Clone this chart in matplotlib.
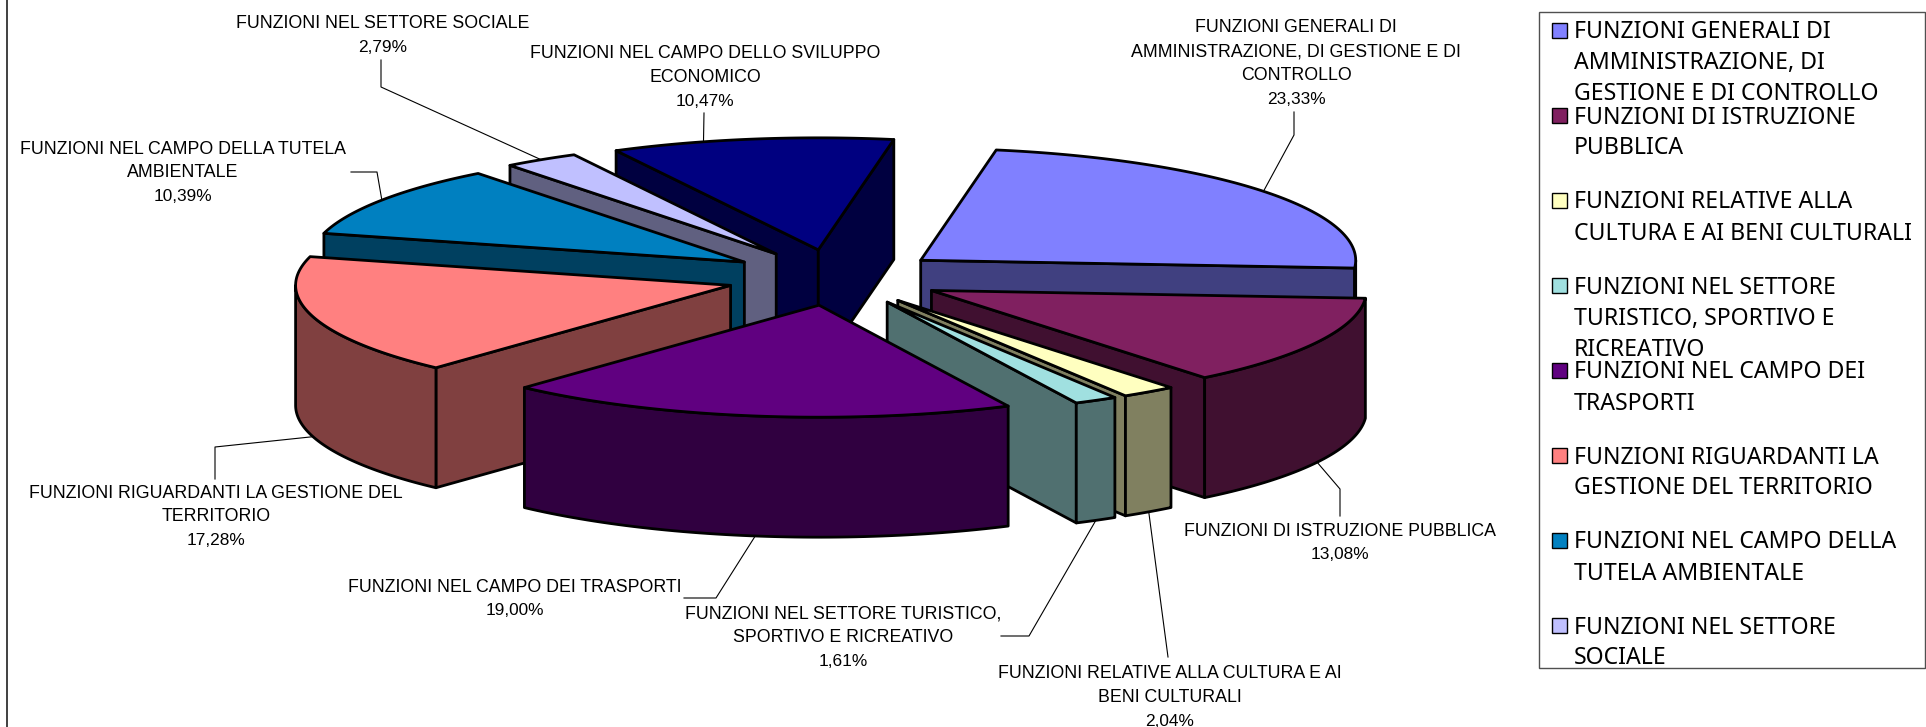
import numpy as np
import matplotlib
matplotlib.use('Agg')
import matplotlib.pyplot as plt
from matplotlib.patches import Polygon, Rectangle

# share of each function, clockwise from the start angle
values = [23.33, 13.08, 2.04, 1.61, 19.00, 17.28, 10.39, 2.79, 10.47]
value_labels = ['23,33%', '13,08%', '2,04%', '1,61%', '19,00%', '17,28%', '10,39%', '2,79%', '10,47%']
colors = ['#8080FF', '#802060', '#FFFFC0', '#A0E0E0', '#600080', '#FF8080', '#0080C0', '#C0C0FF', '#000080']

slice_labels = [
    ['FUNZIONI GENERALI DI', 'AMMINISTRAZIONE, DI GESTIONE E DI', 'CONTROLLO'],
    ['FUNZIONI DI ISTRUZIONE PUBBLICA'],
    ['FUNZIONI RELATIVE ALLA CULTURA E AI', 'BENI CULTURALI'],
    ['FUNZIONI NEL SETTORE TURISTICO,', 'SPORTIVO E RICREATIVO'],
    ['FUNZIONI NEL CAMPO DEI TRASPORTI'],
    ['FUNZIONI RIGUARDANTI LA GESTIONE DEL', 'TERRITORIO'],
    ['FUNZIONI NEL CAMPO DELLA TUTELA', 'AMBIENTALE'],
    ['FUNZIONI NEL SETTORE SOCIALE'],
    ['FUNZIONI NEL CAMPO DELLO SVILUPPO', 'ECONOMICO'],
]
# the last slice has no legend entry in the picture
legend_labels = [
    ['FUNZIONI GENERALI DI', 'AMMINISTRAZIONE, DI', 'GESTIONE E DI CONTROLLO'],
    ['FUNZIONI DI ISTRUZIONE', 'PUBBLICA'],
    ['FUNZIONI RELATIVE ALLA', 'CULTURA E AI BENI CULTURALI'],
    ['FUNZIONI NEL SETTORE', 'TURISTICO, SPORTIVO E', 'RICREATIVO'],
    ['FUNZIONI NEL CAMPO DEI', 'TRASPORTI'],
    ['FUNZIONI RIGUARDANTI LA', 'GESTIONE DEL TERRITORIO'],
    ['FUNZIONI NEL CAMPO DELLA', 'TUTELA AMBIENTALE'],
    ['FUNZIONI NEL SETTORE', 'SOCIALE'],
]

# layout, in pixels of the figure
CX, CY = 835, 277.5
RX, RY = 435, 112
HEIGHT = 120
EXPLODE = 0.25
START = 10
draw_order = [8, 7, 6, 5, 0, 1, 2, 3, 4]
label_xy = [(1296, 28), (1340, 531), (1170, 674), (843, 614), (515, 587),
            (216, 493), (183, 149), (383, 24), (705, 54)]
elbows = [[(1294, 135), (1294, 112)], [(1340, 489), (1340, 516)], [(1168, 657)],
          [(1029, 636), (1001, 636)], [(716, 598), (684, 598)], [(215, 447), (215, 479)],
          [(377, 172), (351, 172)], [(381, 87), (381, 60)], [(704, 113)]]
anchor_angle = {8: -15.3}


def point(x0, y0, t):
    t = np.radians(t)
    return x0 + RX * np.sin(t), y0 - RY * np.cos(t)


def draw_wall(ax, xs, ys, color):
    xs = np.asarray(xs)
    ys = np.asarray(ys)
    px = np.r_[xs, xs[::-1]]
    py = np.r_[ys, ys[::-1] + HEIGHT]
    ax.add_patch(Polygon(np.c_[px, py], closed=True, fc=color, ec='black', lw=2.0, joinstyle='round'))


fig = plt.figure(figsize=(19.26, 7.27), dpi=100)
ax = fig.add_axes([0, 0, 1, 1])
ax.set_xlim(0, 1926)
ax.set_ylim(727, 0)
ax.axis('off')

ax.plot([6.5, 6.5], [0, 727], color='#404040', lw=1.4)

shares = np.array(values) / np.sum(values) * 360
ends = START + np.cumsum(shares)
starts = ends - shares
mids = (starts + ends) / 2
apex_x = CX + EXPLODE * RX * np.sin(np.radians(mids))
apex_y = CY - EXPLODE * RY * np.cos(np.radians(mids))

for i in draw_order:
    t0, t1 = starts[i], ends[i]
    x0, y0 = apex_x[i], apex_y[i]
    side = tuple(0.5 * c for c in matplotlib.colors.to_rgb(colors[i]))
    if np.sin(np.radians(t0)) < 0:
        ex, ey = point(x0, y0, t0)
        draw_wall(ax, [x0, ex], [y0, ey], side)
    if np.sin(np.radians(t1)) > 0:
        ex, ey = point(x0, y0, t1)
        draw_wall(ax, [x0, ex], [y0, ey], side)
    f0, f1 = max(t0, 90), min(t1, 270)
    if f1 > f0:
        fx, fy = point(x0, y0, np.linspace(f0, f1, 60))
        draw_wall(ax, fx, fy, side)
    tx, ty = point(x0, y0, np.linspace(t0, t1, 80))
    ax.add_patch(Polygon(np.c_[np.r_[x0, tx], np.r_[y0, ty]], closed=True, fc=colors[i],
                         ec='black', lw=2.0, joinstyle='round'))

LABEL_FONT = 'Liberation Sans'
for i, lines in enumerate(slice_labels):
    t = anchor_angle.get(i, mids[i])
    ax_, ay_ = point(apex_x[i], apex_y[i], t)
    if np.cos(np.radians(t)) < 0:
        ay_ += HEIGHT
    pts = [(ax_, ay_)] + elbows[i]
    ax.plot([p[0] for p in pts], [p[1] for p in pts], color='black', lw=0.8, zorder=1)
    lx, ly = label_xy[i]
    for j, line in enumerate(lines):
        ax.text(lx, ly + j * 23.8, line, ha='center', va='center', fontsize=12.8,
                family=LABEL_FONT, color='black')
    ax.text(lx, ly + len(lines) * 23.8, value_labels[i], ha='center', va='center', fontsize=12.4,
            family=LABEL_FONT, color='black')

# legend
ax.add_patch(Rectangle((1539, 12), 386, 656, fc='white', ec='#505050', lw=1.0))
for i, lines in enumerate(legend_labels):
    y = 30 + i * 85
    ax.add_patch(Rectangle((1552, y - 7.5), 15, 15, fc=colors[i], ec='black', lw=1.0))
    for j, line in enumerate(lines):
        ax.text(1574, y + 2.5 + j * 31, line, ha='left', va='center', fontsize=16.6,
                family='Noto Sans', color='black')

plt.savefig('out.png', dpi=100)
